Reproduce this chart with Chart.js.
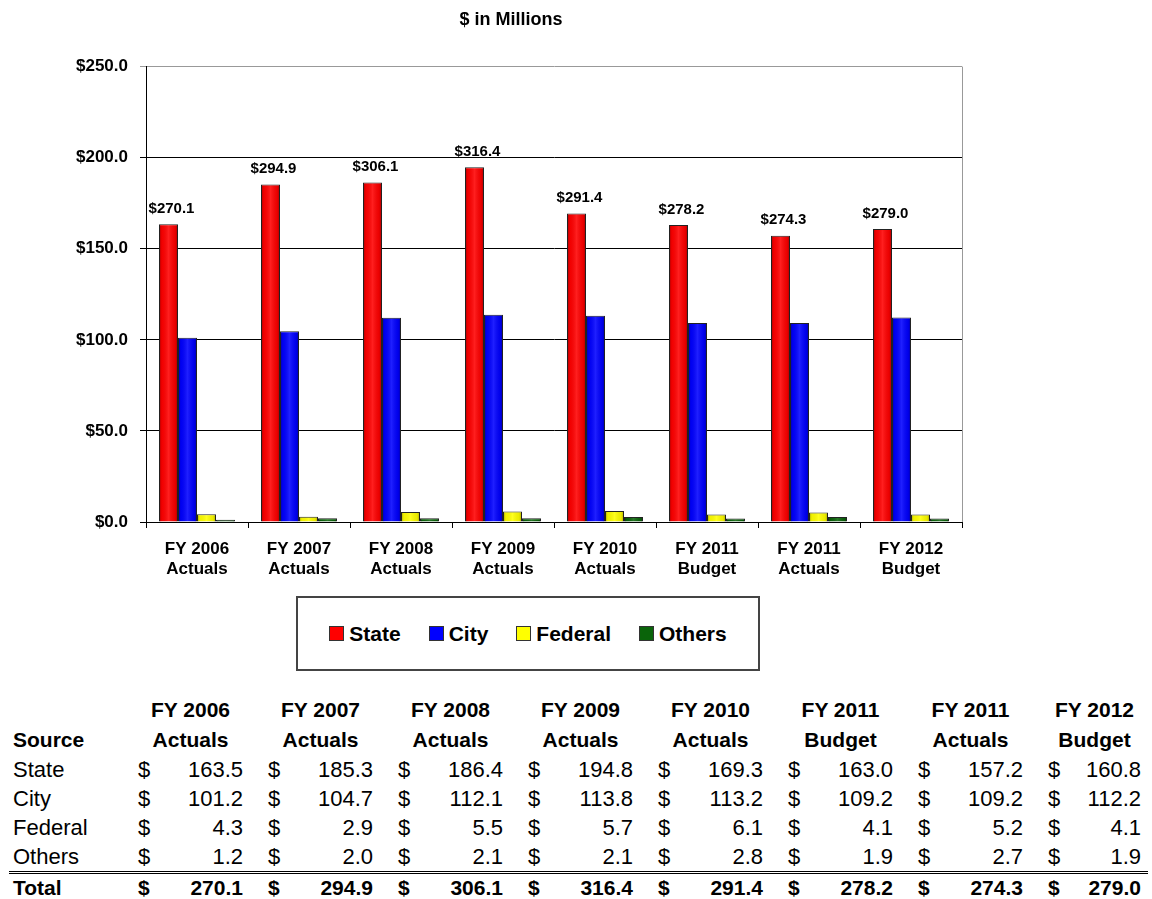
<!DOCTYPE html>
<html>
<head>
<meta charset="utf-8">
<script src="https://cdn.jsdelivr.net/npm/chart.js@4.4.0/dist/chart.umd.min.js"></script>
<style>
  body { margin: 0; background: #fff; font-family: "Liberation Sans", Arial, sans-serif; }
  #wrap { position: relative; width: 1152px; height: 899px; }
  #chartBox { position: absolute; left: 0; top: 0; width: 1022px; height: 590px; }
  #legend {
    position: absolute; left: 296px; top: 596px; width: 460px; height: 71px;
    border: 2px solid #444; display: flex; align-items: center; justify-content: center;
  }
  .lg-item { display: flex; align-items: center; margin: 0 14px; font-weight: bold; font-size: 21px; color: #000; }
  .lg-sw { width: 13px; height: 13px; border: 1px solid #333; margin-right: 5px; }
  .cell { position: absolute; height: 30px; line-height: 30px; font-size: 22px; color: #000; white-space: nowrap; }
  .b { font-weight: bold; font-size: 21px; }
  #rule { position: absolute; left: 9px; top: 871px; width: 1139px; height: 0; border-top: 1px solid #000; border-bottom: 1px solid #000; height: 1px; }
</style>
</head>
<body>
<div id="wrap">
  <div id="chartBox"><canvas id="fundChart" width="1022" height="590"></canvas></div>
  <div id="legend"></div>
  <div id="table"></div>
  <div id="rule"></div>
</div>
<script>
// ---------- Data ---------- //
const categories = [
  ['FY 2006', 'Actuals'], ['FY 2007', 'Actuals'], ['FY 2008', 'Actuals'], ['FY 2009', 'Actuals'],
  ['FY 2010', 'Actuals'], ['FY 2011', 'Budget'], ['FY 2011', 'Actuals'], ['FY 2012', 'Budget']
];
const stateVals   = [163.5, 185.3, 186.4, 194.8, 169.3, 163.0, 157.2, 160.8];
const cityVals    = [101.2, 104.7, 112.1, 113.8, 113.2, 109.2, 109.2, 112.2];
const federalVals = [4.3, 2.9, 5.5, 5.7, 6.1, 4.1, 5.2, 4.1];
const othersVals  = [1.2, 2.0, 2.1, 2.1, 2.8, 1.9, 2.7, 1.9];
const totalVals   = [270.1, 294.9, 306.1, 316.4, 291.4, 278.2, 274.3, 279.0];
const yTicks      = [0, 50, 100, 150, 200, 250];

const seriesNames  = ['State', 'City', 'Federal', 'Others'];
const seriesColors = ['#ff0000', '#0000ff', '#ffff00', '#0a640a'];
const seriesData   = [stateVals, cityVals, federalVals, othersVals];

const FONT = '"Liberation Sans", Arial, sans-serif';
const fmt = v => v.toFixed(1);

// ---------- Chart ---------- //
// bevel-ish shading over each bar, plus right border of the plot
const barShade = {
  id: 'barShade',
  afterDatasetsDraw(chart) {
    const ctx = chart.ctx;
    chart.data.datasets.forEach((ds, di) => {
      chart.getDatasetMeta(di).data.forEach(bar => {
        const l = bar.x - bar.width / 2, r = bar.x + bar.width / 2;
        const g = ctx.createLinearGradient(l, 0, r, 0);
        g.addColorStop(0, 'rgba(0,0,0,0.35)');
        g.addColorStop(0.15, 'rgba(0,0,0,0.05)');
        g.addColorStop(0.5, 'rgba(255,255,255,0.12)');
        g.addColorStop(0.85, 'rgba(0,0,0,0.08)');
        g.addColorStop(1, 'rgba(0,0,0,0.35)');
        ctx.save();
        ctx.fillStyle = g;
        ctx.fillRect(l + 1, bar.y + 1, bar.width - 2, bar.base - bar.y - 1);
        ctx.restore();
      });
    });
    const a = chart.chartArea;
    ctx.save();
    ctx.strokeStyle = '#999';
    ctx.lineWidth = 1;
    ctx.beginPath();
    ctx.moveTo(a.right + 0.5, a.top);
    ctx.lineTo(a.right + 0.5, a.bottom);
    ctx.stroke();
    ctx.restore();
  }
};

// total labels above the State bar
const totalLabels = {
  id: 'totalLabels',
  afterDatasetsDraw(chart) {
    const ctx = chart.ctx;
    const meta = chart.getDatasetMeta(0);
    ctx.save();
    ctx.font = 'bold 15px ' + FONT;
    ctx.fillStyle = '#000';
    ctx.textAlign = 'center';
    ctx.textBaseline = 'bottom';
    meta.data.forEach((bar, i) => {
      ctx.fillText('$' + fmt(totalVals[i]), bar.x + 3, bar.y - 8);
    });
    ctx.restore();
  }
};

new Chart(document.getElementById('fundChart'), {
  type: 'bar',
  data: {
    labels: categories,
    datasets: seriesNames.map((name, i) => ({
      label: name,
      data: seriesData[i],
      backgroundColor: seriesColors[i],
      borderColor: '#222',
      borderWidth: 1,
      categoryPercentage: 0.745,
      barPercentage: 1.0
    }))
  },
  options: {
    responsive: false,
    animation: false,
    devicePixelRatio: 1,
    layout: { padding: { left: 60, right: 60, top: 0, bottom: 0 } },
    plugins: {
      legend: { display: false },
      tooltip: { enabled: false },
      title: {
        display: true,
        text: '$ in Millions',
        color: '#000',
        font: { family: FONT, size: 18, weight: 'bold' },
        padding: { top: 9, bottom: 36 }
      }
    },
    scales: {
      x: {
        grid: { offset: true, drawOnChartArea: false, tickLength: 6, color: '#000' },
        border: { color: '#000', width: 1 },
        ticks: { color: '#000', font: { family: FONT, size: 17, weight: 'bold', lineHeight: 1.2 }, padding: 11, maxRotation: 0 },
        afterFit: s => { s.height = 68; }
      },
      y: {
        min: 0, max: 250,
        afterBuildTicks: s => { s.ticks = yTicks.map(v => ({ value: v })); },
        grid: {
          tickLength: 6,
          color: c => (c.tick && c.tick.value === 250 ? '#999' : '#000')
        },
        border: { color: '#000', width: 1 },
        ticks: {
          color: '#000', padding: 12,
          font: { family: FONT, size: 17, weight: 'bold' },
          callback: v => '$' + fmt(v)
        },
        afterFit: s => { s.width = 86; }
      }
    }
  },
  plugins: [barShade, totalLabels]
});

// ---------- Legend ---------- //
const legend = document.getElementById('legend');
seriesNames.forEach((name, i) => {
  const item = document.createElement('div');
  item.className = 'lg-item';
  item.innerHTML = `<span class="lg-sw" style="background:${seriesColors[i]}"></span>${name}`;
  legend.appendChild(item);
});

// ---------- Table ---------- //
const table = document.getElementById('table');
const colDollar = categories.map((c, i) => 138 + 130 * i);
const colRight  = categories.map((c, i) => Math.min(243 + 130 * i, 1141));
const rowY = { head1: 710, head2: 740, State: 770, City: 799, Federal: 828, Others: 857, Total: 888 };

function cell(text, x, yc, opts = {}) {
  const d = document.createElement('div');
  d.className = 'cell' + (opts.bold ? ' b' : '');
  d.textContent = text;
  d.style.top = (yc - 15) + 'px';
  if (opts.align === 'right') d.style.right = (1152 - x) + 'px';
  else if (opts.align === 'center') { d.style.left = (x - 100) + 'px'; d.style.width = '200px'; d.style.textAlign = 'center'; }
  else d.style.left = x + 'px';
  table.appendChild(d);
}

cell('Source', 13, rowY.head2, { bold: true });
categories.forEach((c, i) => {
  const cx = (colDollar[i] + colRight[i]) / 2;
  cell(c[0], cx, rowY.head1, { bold: true, align: 'center' });
  cell(c[1], cx, rowY.head2, { bold: true, align: 'center' });
});
seriesNames.forEach((name, si) => {
  cell(name, 13, rowY[name]);
  seriesData[si].forEach((v, i) => {
    cell('$', colDollar[i], rowY[name]);
    cell(fmt(v), colRight[i], rowY[name], { align: 'right' });
  });
});
cell('Total', 13, rowY.Total, { bold: true });
totalVals.forEach((v, i) => {
  cell('$', colDollar[i], rowY.Total, { bold: true });
  cell(fmt(v), colRight[i], rowY.Total, { bold: true, align: 'right' });
});
</script>
</body>
</html>
